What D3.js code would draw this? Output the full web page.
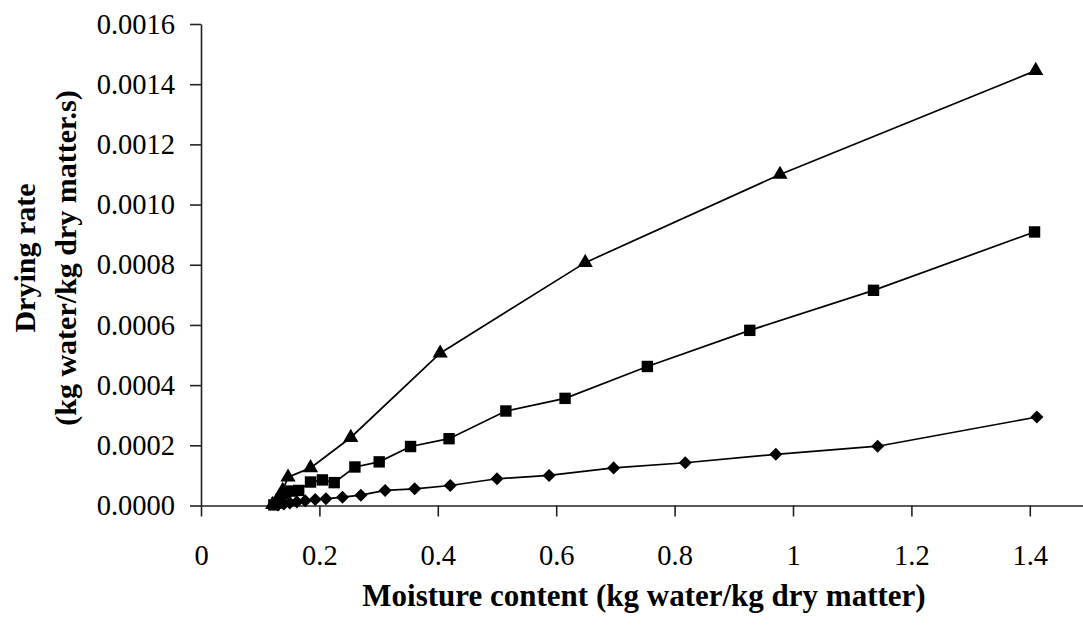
<!DOCTYPE html>
<html>
<head>
<meta charset="utf-8">
<script src="https://cdn.jsdelivr.net/npm/d3@7"></script>
<style>
  html, body { margin: 0; padding: 0; background: #fff; }
  svg { display: block; }
  text { font-family: "Liberation Serif", "Times New Roman", serif; fill: #000; }
</style>
</head>
<body>
<svg id="chart" width="1083" height="625"></svg>
<script>
// Drying-rate curves: rate vs. moisture content, three drying conditions
const lowMoisture  = [1.412, 1.143, 0.971, 0.818, 0.697, 0.588, 0.500, 0.421, 0.361, 0.311, 0.270, 0.239, 0.211, 0.193, 0.176, 0.162, 0.150, 0.140, 0.130];
const lowRate      = [0.000294, 0.000197, 0.000170, 0.000142, 0.000125, 0.000100, 0.0000888, 0.0000665, 0.0000555, 0.0000500, 0.0000343, 0.0000277, 0.0000222, 0.0000200, 0.0000160, 0.0000120, 0.0000080, 0.0000050, 0.0000020];

const midMoisture  = [1.408, 1.136, 0.927, 0.754, 0.615, 0.515, 0.419, 0.354, 0.301, 0.260, 0.225, 0.205, 0.185, 0.165, 0.152, 0.143, 0.135, 0.128, 0.123];
const midRate      = [0.000909, 0.000715, 0.000582, 0.000462, 0.000356, 0.000314, 0.000222, 0.000196, 0.000145, 0.000128, 0.0000760, 0.0000850, 0.0000780, 0.0000500, 0.0000480, 0.0000400, 0.0000200, 0.0000080, 0.0000020];

const highMoisture = [1.410, 0.978, 0.649, 0.404, 0.253, 0.185, 0.147, 0.138, 0.132, 0.126, 0.121];
const highRate     = [0.001445, 0.001100, 0.000807, 0.000506, 0.000226, 0.000125, 0.000094, 0.000050, 0.000025, 0.000010, 0.000003];

const xTicks = [0, 0.2, 0.4, 0.6, 0.8, 1, 1.2, 1.4];
const yTicks = [0, 0.0002, 0.0004, 0.0006, 0.0008, 0.0010, 0.0012, 0.0014, 0.0016];

const xTitle = "Moisture content (kg water/kg dry matter)";
const yTitleLines = ["Drying rate", "(kg water/kg dry matter.s)"];

const svg = d3.select("#chart");
const plotLeft = 201, plotBottom = 505.5, plotTop = 24, pxPerUnit = 592;

const x = d3.scaleLinear().domain([0, 1.5]).range([plotLeft, plotLeft + 1.5 * pxPerUnit]);
const y = d3.scaleLinear().domain([0, 0.0016]).range([plotBottom, plotTop]);

// axes
const xAxis = d3.axisBottom(x).tickValues(xTicks).tickSize(11).tickSizeOuter(0)
  .tickFormat(d3.format("~g")).tickPadding(28);
const yAxis = d3.axisLeft(y).tickValues(yTicks).tickSize(11).tickSizeOuter(0)
  .tickFormat(d3.format(".4f")).tickPadding(15);

const gx = svg.append("g").attr("transform", `translate(0,${plotBottom})`).call(xAxis);
const gy = svg.append("g").attr("transform", `translate(${plotLeft},0)`).call(yAxis);

[gx, gy].forEach(g => {
  g.select(".domain").attr("stroke", "#222").attr("stroke-width", 1.6);
  g.selectAll(".tick line").attr("stroke", "#222").attr("stroke-width", 1.6);
  g.selectAll(".tick text")
    .style("font-family", '"Liberation Serif", serif')
    .style("font-size", "28.5px").attr("fill", "#000");
});

// axis titles
svg.append("text")
  .attr("x", 644).attr("y", 606)
  .attr("text-anchor", "middle")
  .style("font-size", "31px").style("font-weight", "bold")
  .text(xTitle);

const yt = svg.append("text")
  .attr("transform", `translate(35,258) rotate(-90)`)
  .attr("text-anchor", "middle")
  .style("font-size", "30px").style("font-weight", "bold");
yTitleLines.forEach((t, i) => {
  yt.append("tspan").attr("x", 0).attr("dy", i === 0 ? 0 : 41).text(t);
});

// series
const series = [
  { xs: lowMoisture,  ys: lowRate,  symbol: d3.symbolSquare,   size: 85,  rotate: 45 },
  { xs: midMoisture,  ys: midRate,  symbol: d3.symbolSquare,   size: 130, rotate: 0 },
  { xs: highMoisture, ys: highRate, symbol: d3.symbolTriangle, size: 100, rotate: 0 }
];

const line = d3.line().x(d => x(d[0])).y(d => y(d[1]));

series.forEach(s => {
  const pts = s.xs.map((v, i) => [v, s.ys[i]]);
  svg.append("path")
    .datum(pts)
    .attr("d", line)
    .attr("fill", "none")
    .attr("stroke", "#000")
    .attr("stroke-width", 1.7);
  svg.append("g").selectAll("path")
    .data(pts)
    .join("path")
    .attr("d", d3.symbol().type(s.symbol).size(s.size))
    .attr("transform", d => `translate(${x(d[0])},${y(d[1])}) rotate(${s.rotate})`)
    .attr("fill", "#000");
});
</script>
</body>
</html>
